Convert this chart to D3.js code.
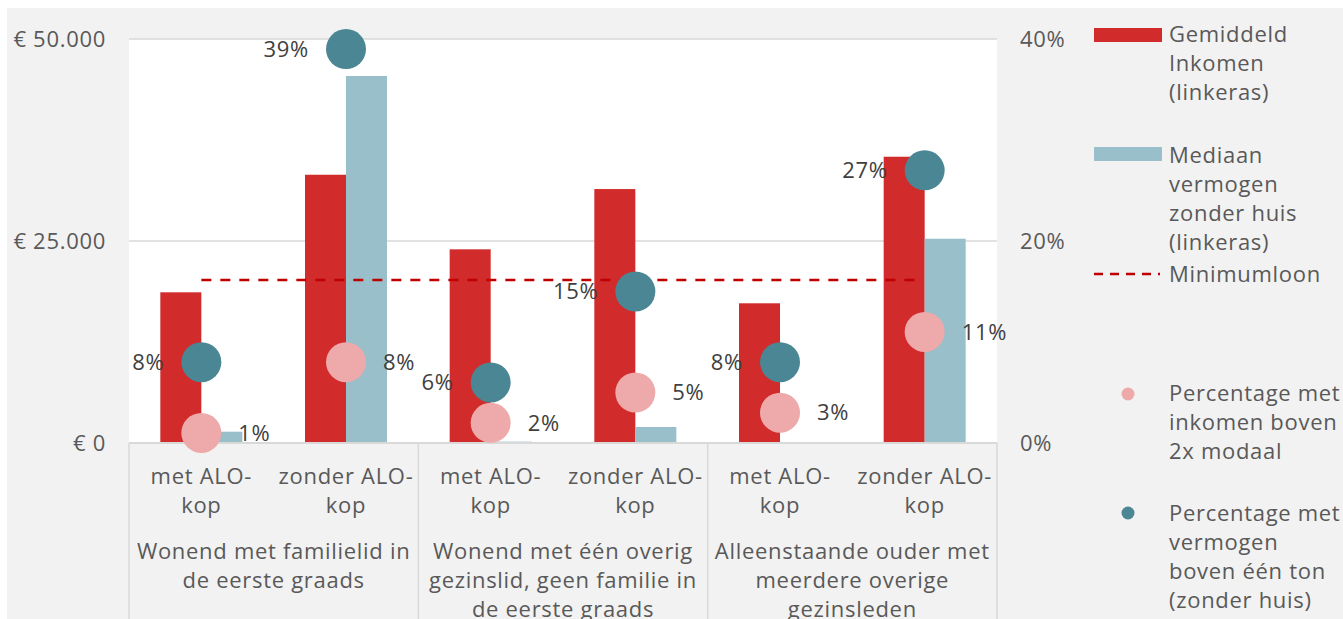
<!DOCTYPE html>
<html>
<head>
  <meta charset="utf-8">
  <title>Inkomen en vermogen naar huishoudtype</title>
  <script src="https://cdn.jsdelivr.net/npm/d3@7"></script>
  <style>
    body { margin: 0; background: #fff; }
    text { font-family: "Open Sans", Lato, sans-serif; letter-spacing: 0.7px; }
  </style>
</head>
<body>
  <script>
    // categories (x axis)
    var categories = ["c1", "c2", "c3", "c4", "c5", "c6"];
    var subLabels = ["met ALO-\nkop", "zonder ALO-\nkop", "met ALO-\nkop", "zonder ALO-\nkop", "met ALO-\nkop", "zonder ALO-\nkop"];
    var groupLabels = [
      "Wonend met familielid in\nde eerste graads",
      "Wonend met één overig\ngezinslid, geen familie in\nde eerste graads",
      "Alleenstaande ouder met\nmeerdere overige\ngezinsleden"
    ];

    // bar values (left axis, euro)
    var inkomen = [18650, 33200, 23970, 31430, 17290, 35430];
    var vermogen = [1400, 45420, 170, 1980, 100, 25280];
    var minimumloon = 20170;

    // dot values (right axis, %)
    var pctInkomen = [1, 8, 2, 5, 3, 11];
    var pctVermogen = [8, 39, 6, 15, 8, 27];

    var leftTicks = [0, 25000, 50000];
    var rightTicks = [0, 20, 40];

    var W = 1343, H = 619;
    var plot = {left: 129, right: 997, top: 39, bottom: 443};
    var colRed = "#d12b2b", colBlue = "#98bfca", colTeal = "#4a8694", colPink = "#eeaaaa";
    var textCol = "#595959", labelCol = "#404040";
    var fs = 22;

    var svg = d3.select("body").append("svg").attr("width", W).attr("height", H);

    svg.append("rect").attr("x", 7).attr("y", 8).attr("width", W - 7).attr("height", H - 8).attr("fill", "#f2f2f2");
    svg.append("rect").attr("x", plot.left).attr("y", plot.top)
      .attr("width", plot.right - plot.left).attr("height", plot.bottom - plot.top).attr("fill", "#fff");

    var x = d3.scaleBand().domain(categories).range([plot.left, plot.right]).padding(0);
    var yL = d3.scaleLinear().domain([0, 50000]).range([plot.bottom, plot.top]);
    var yR = d3.scaleLinear().domain([0, 40]).range([plot.bottom, plot.top]);
    var barW = 41;
    var sub = d3.scaleBand().domain(["ink", "verm"]).range([-barW, barW]);
    function cx(i) { return x(categories[i]) + x.bandwidth() / 2; }

    // gridlines
    svg.append("g").selectAll("line").data(leftTicks.slice(1)).join("line")
      .attr("x1", plot.left).attr("x2", plot.right)
      .attr("y1", d => yL(d)).attr("y2", d => yL(d))
      .attr("stroke", "#d9d9d9").attr("stroke-width", 1.5);

    // left axis labels
    var fmt = d3.formatLocale({decimal: ",", thousands: ".", grouping: [3], currency: ["€ ", ""]}).format("$,.0f");
    svg.append("g").selectAll("text").data(leftTicks).join("text")
      .attr("x", 106).attr("y", d => yL(d)).attr("dy", "0.35em")
      .attr("text-anchor", "end").attr("fill", textCol).attr("font-size", fs)
      .text(d => fmt(d));

    // right axis labels
    svg.append("g").selectAll("text").data(rightTicks).join("text")
      .attr("x", 1020).attr("y", d => yR(d)).attr("dy", "0.35em")
      .attr("fill", textCol).attr("font-size", fs)
      .text(d => d + "%");

    // bars
    svg.append("g").selectAll("rect").data(inkomen).join("rect")
      .attr("x", (d, i) => cx(i) + sub("ink")).attr("width", sub.bandwidth())
      .attr("y", d => yL(d)).attr("height", d => plot.bottom - yL(d))
      .attr("fill", colRed);
    svg.append("g").selectAll("rect").data(vermogen).join("rect")
      .attr("x", (d, i) => cx(i) + sub("verm")).attr("width", sub.bandwidth())
      .attr("y", d => yL(d)).attr("height", d => plot.bottom - yL(d))
      .attr("fill", colBlue);

    // minimumloon line
    svg.append("line")
      .attr("x1", cx(0)).attr("x2", cx(5) - 4)
      .attr("y1", yL(minimumloon)).attr("y2", yL(minimumloon))
      .attr("stroke", "#c00000").attr("stroke-width", 2.5).attr("stroke-dasharray", "10,9");

    // x axis
    svg.append("line").attr("x1", plot.left).attr("x2", plot.right)
      .attr("y1", plot.bottom).attr("y2", plot.bottom)
      .attr("stroke", "#d9d9d9").attr("stroke-width", 2);
    svg.append("g").selectAll("line").data([0, 2, 4, 6]).join("line")
      .attr("x1", d => d < 6 ? x(categories[d]) : plot.right)
      .attr("x2", d => d < 6 ? x(categories[d]) : plot.right)
      .attr("y1", plot.bottom).attr("y2", H)
      .attr("stroke", "#d9d9d9").attr("stroke-width", 1.5);

    // multi-line text; first line centred on y when mid is set
    function multiline(sel, str, lh, mid) {
      str.split("\n").forEach(function (line, k) {
        sel.append("tspan").attr("x", sel.attr("x"))
          .attr("dy", k === 0 ? (mid ? "0.35em" : 0) : lh).text(line);
      });
    }
    subLabels.forEach(function (s, i) {
      var t = svg.append("text").attr("x", cx(i)).attr("y", 476)
        .attr("text-anchor", "middle").attr("fill", textCol).attr("font-size", fs);
      multiline(t, s, 29.5, true);
    });
    groupLabels.forEach(function (s, g) {
      var gx = (x(categories[g * 2]) + x(categories[g * 2 + 1]) + x.bandwidth()) / 2;
      var t = svg.append("text").attr("x", gx).attr("y", 551)
        .attr("text-anchor", "middle").attr("fill", textCol).attr("font-size", fs);
      multiline(t, s, 29.3, true);
    });

    // dots: teal labels left, pink labels right
    var r = 20;
    svg.append("g").selectAll("circle").data(pctVermogen).join("circle")
      .attr("cx", (d, i) => cx(i)).attr("cy", d => yR(d)).attr("r", r).attr("fill", colTeal);
    svg.append("g").selectAll("text").data(pctVermogen).join("text")
      .attr("x", (d, i) => cx(i) - 37).attr("y", d => yR(d)).attr("dy", "0.35em")
      .attr("text-anchor", "end").attr("fill", labelCol).attr("font-size", fs)
      .text(d => d + "%");
    svg.append("g").selectAll("circle").data(pctInkomen).join("circle")
      .attr("cx", (d, i) => cx(i)).attr("cy", d => yR(d)).attr("r", r).attr("fill", colPink);
    svg.append("g").selectAll("text").data(pctInkomen).join("text")
      .attr("x", (d, i) => cx(i) + 37).attr("y", d => yR(d)).attr("dy", "0.35em")
      .attr("fill", labelCol).attr("font-size", fs)
      .text(d => d + "%");

    // legend
    var lg = svg.append("g");
    var lx = 1169, lh = 29;
    function legendText(y0, str) {
      var t = lg.append("text").attr("x", lx).attr("y", y0)
        .attr("fill", textCol).attr("font-size", fs);
      multiline(t, str, lh, true);
    }
    lg.append("rect").attr("x", 1094).attr("y", 28).attr("width", 68).attr("height", 14).attr("fill", colRed);
    legendText(34, "Gemiddeld\nInkomen\n(linkeras)");
    lg.append("rect").attr("x", 1094).attr("y", 147).attr("width", 68).attr("height", 14).attr("fill", colBlue);
    legendText(155, "Mediaan\nvermogen\nzonder huis\n(linkeras)");
    lg.append("line").attr("x1", 1094).attr("x2", 1160).attr("y1", 274).attr("y2", 274)
      .attr("stroke", "#c00000").attr("stroke-width", 2.5).attr("stroke-dasharray", "9,7");
    legendText(274, "Minimumloon");
    lg.append("circle").attr("cx", 1128).attr("cy", 394).attr("r", 6.5).attr("fill", colPink);
    legendText(393, "Percentage met\ninkomen boven\n2x modaal");
    lg.append("circle").attr("cx", 1128).attr("cy", 513).attr("r", 6.5).attr("fill", colTeal);
    legendText(513, "Percentage met\nvermogen\nboven één ton\n(zonder huis)");
  </script>
</body>
</html>
